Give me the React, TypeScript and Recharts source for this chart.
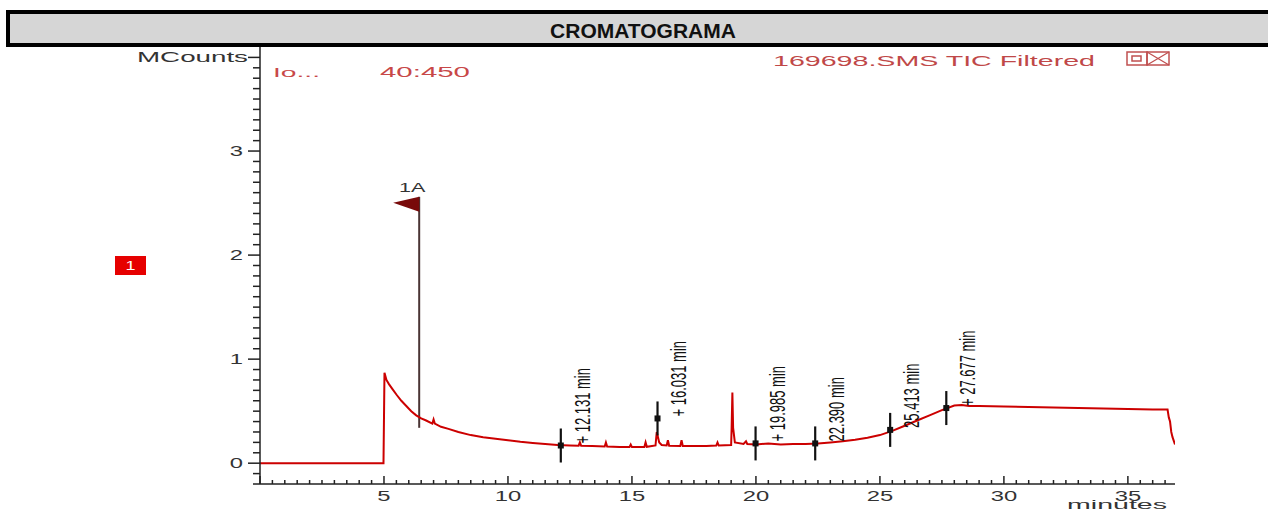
import React from "react";
import {
  ComposedChart,
  Line,
  Scatter,
  XAxis,
  YAxis,
  ReferenceLine,
} from "recharts";

// ---- chromatogram trace (minutes, MCounts) ----
const times = [
  0, 4.98, 5.02, 5.1, 5.2, 5.35, 5.5, 5.7, 5.9, 6.1, 6.3, 6.5, 6.7, 6.95, 7.0, 7.05,
  7.3, 7.6, 8.0, 8.5, 9.0, 9.5, 10.0, 10.5, 11.0, 11.5, 12.0, 12.5, 12.85, 12.9, 12.95,
  13.4, 13.9, 13.95, 14.0, 14.5, 14.9, 14.95, 15.0, 15.5, 15.55, 15.6, 15.95, 16.0,
  16.1, 16.2, 16.4, 16.45, 16.5, 16.95, 17.0, 17.05, 17.5, 18.0, 18.4, 18.45, 18.5,
  19.0, 19.02, 19.05, 19.08, 19.15, 19.5, 19.6, 19.65, 20.0, 20.5, 21.0, 21.5, 22.0,
  22.5, 23.0, 23.5, 24.0, 24.5, 25.0, 25.5, 26.0, 26.5, 27.0, 27.5, 28.0, 28.3, 28.6,
  29.0, 30.0, 31.0, 32.0, 33.0, 34.0, 35.0, 36.0, 36.6, 36.65, 36.7, 36.75, 36.8, 36.9,
];
const counts = [
  0, 0, 0.87, 0.8, 0.76, 0.71, 0.66, 0.6, 0.55, 0.5, 0.46, 0.43, 0.41, 0.38, 0.42, 0.38,
  0.35, 0.33, 0.3, 0.27, 0.25, 0.235, 0.22, 0.205, 0.195, 0.185, 0.175, 0.17, 0.168, 0.2, 0.168,
  0.165, 0.16, 0.2, 0.16, 0.155, 0.155, 0.18, 0.155, 0.155, 0.2, 0.157, 0.17, 0.3,
  0.2, 0.175, 0.17, 0.22, 0.168, 0.165, 0.22, 0.165, 0.165, 0.165, 0.17, 0.2, 0.17,
  0.175, 0.34, 0.68, 0.34, 0.2, 0.185, 0.21, 0.185, 0.18, 0.19, 0.18, 0.185, 0.185,
  0.19, 0.2, 0.21, 0.225, 0.245, 0.27, 0.31, 0.36, 0.41, 0.46, 0.51, 0.555, 0.56, 0.55,
  0.55, 0.545, 0.54, 0.535, 0.53, 0.525, 0.52, 0.515, 0.515, 0.44, 0.4, 0.3, 0.25, 0.18,
];

// ---- integration markers ----
const peakTimes = [12.131, 16.031, 19.985, 22.39, 25.413, 27.677];
const peakCounts = [0.17, 0.43, 0.19, 0.19, 0.32, 0.53];
const peakLabels = [
  "+ 12.131 min",
  "+ 16.031 min",
  "+ 19.985 min",
  "22.390 min",
  "25.413 min",
  "+ 27.677 min",
];

// ---- compound flag ----
const flagTime = 6.42;
const flagTop = 2.56;
const flagBottom = 0.34;
const flagLabel = "1A";

// ---- axes ----
const xDomain = [0, 36.9];
const yDomain = [-0.2, 4.0];
const xTickLabels = [5, 10, 15, 20, 25, 30, 35];
const yTickLabels = [0, 1, 2, 3];
const yUnitTick = 3.9;
const yUnitLabel = "MCounts";
const xUnitLabel = "minutes";
const xTicks = Array.from({ length: 74 }, (_, i) => i * 0.5);
const yTicks = Array.from({ length: 42 }, (_, i) => Math.round((-0.2 + i * 0.1) * 10) / 10);

// ---- header texts ----
const titleText = "CROMATOGRAMA";
const ionLabel = "Io...";
const ionRange = "40:450";
const traceName = "169698.SMS TIC Filtered";
const badgeText = "1";

const chartData = times.map((t, i) => ({ t, v: counts[i] }));
const peakData = peakTimes.map((t, i) => ({ t, v: peakCounts[i], label: peakLabels[i] }));
const flagData = [{ t: flagTime, v: flagTop, label: flagLabel }];

const RED = "#cc0000";
const FONT = "'Liberation Sans', Arial, sans-serif";

const XTick = (props: any) => {
  const { x, y, payload } = props;
  const v = payload.value;
  const isMajor = Math.abs(v - Math.round(v)) < 1e-6 && Math.round(v) % 5 === 0;
  const hasLabel = isMajor && xTickLabels.includes(Math.round(v));
  return (
    <g>
      <line x1={x} y1={y} x2={x} y2={y - (isMajor ? 8 : 4)} stroke="#222" strokeWidth={1.5} />
      {hasLabel && (
        <text
          transform={`translate(${x},${y + 17}) scale(1.7,1)`}
          textAnchor="middle"
          fontSize={14}
          fill="#333"
          fontFamily={FONT}
        >
          {Math.round(v)}
        </text>
      )}
    </g>
  );
};

const YTickLeft = (props: any) => {
  const { x, y, payload } = props;
  const v = payload.value;
  const r = Math.round(v * 10) / 10;
  const isInt = Math.abs(r - Math.round(r)) < 1e-6 && yTickLabels.includes(Math.round(r));
  const isUnit = Math.abs(r - yUnitTick) < 1e-6;
  const major = isInt || isUnit;
  return (
    <g>
      <line x1={x} y1={y} x2={x - (major ? 12 : 7)} y2={y} stroke="#222" strokeWidth={1.5} />
      {isInt && (
        <text
          transform={`translate(${x - 17},${y + 5}) scale(1.7,1)`}
          textAnchor="end"
          fontSize={14}
          fill="#333"
          fontFamily={FONT}
        >
          {Math.round(r)}
        </text>
      )}
      {isUnit && (
        <text
          x={x - 12}
          y={y + 5}
          textAnchor="end"
          fontSize={14}
          fill="#333"
          fontFamily={FONT}
          textLength={111}
          lengthAdjust="spacingAndGlyphs"
        >
          {yUnitLabel}
        </text>
      )}
    </g>
  );
};

const YTickRight = (props: any) => {
  const { x, y, payload } = props;
  const r = Math.round(payload.value * 10) / 10;
  const major = Math.abs(r - Math.round(r)) < 1e-6 && yTickLabels.includes(Math.round(r));
  return <line x1={x} y1={y} x2={x - (major ? 12 : 6)} y2={y} stroke="#222" strokeWidth={1.5} />;
};

const PeakMarker = (props: any) => {
  const { cx, cy, payload } = props;
  if (cx == null || cy == null) return null;
  return (
    <g>
      <line x1={cx} y1={cy - 17} x2={cx} y2={cy + 17} stroke="#111" strokeWidth={2.2} />
      <rect x={cx - 3} y={cy - 3} width={6} height={6} fill="#111" />
      <text
        transform={`translate(${cx + 21},${cy - 2}) scale(1.75,1) rotate(-90)`}
        fontSize={13}
        dominantBaseline="central"
        fill="#111"
        fontFamily={FONT}
      >
        {payload.label}
      </text>
    </g>
  );
};

const FlagMarker = (props: any) => {
  const { cx, cy, payload } = props;
  if (cx == null || cy == null) return null;
  return (
    <g>
      <polygon points={`${cx},${cy} ${cx},${cy + 15} ${cx - 26},${cy + 6}`} fill="#780a0a" />
      <text
        transform={`translate(${cx - 7},${cy - 5}) scale(1.8,1)`}
        textAnchor="middle"
        fontSize={12}
        fill="#333"
        fontFamily={FONT}
      >
        {payload.label}
      </text>
    </g>
  );
};

export default function App() {
  return (
    <div
      style={{
        position: "absolute",
        left: 0,
        top: 0,
        width: 1268,
        height: 511,
        overflow: "hidden",
        background: "#ffffff",
        fontFamily: FONT,
      }}
    >
      <div
        style={{
          position: "absolute",
          left: 6,
          top: 10,
          width: 1280,
          height: 29,
          border: "4px solid #000",
          background: "#d6d6d6",
        }}
      />
      <div
        style={{
          position: "absolute",
          left: 448,
          width: 390,
          top: 16,
          height: 29,
          lineHeight: "29px",
          textAlign: "center",
          fontWeight: "bold",
          fontSize: 21,
          color: "#111",
          fontFamily: FONT,
        }}
      >
        {titleText}
      </div>

      <div style={{ position: "absolute", left: 0, top: 0 }}>
        <ComposedChart
          width={1268}
          height={511}
          data={chartData}
          margin={{ top: 47, right: 93, bottom: 0, left: 200 }}
        >
          <XAxis
            dataKey="t"
            type="number"
            domain={xDomain}
            ticks={xTicks}
            interval={0}
            allowDataOverflow
            height={27}
            tickSize={0}
            tickMargin={0}
            tickLine={false}
            axisLine={{ stroke: "#222", strokeWidth: 1.5 }}
            tick={<XTick />}
          />
          <YAxis
            yAxisId="left"
            type="number"
            domain={yDomain}
            ticks={yTicks}
            interval={0}
            allowDataOverflow
            width={60}
            tickSize={0}
            tickMargin={0}
            tickLine={false}
            axisLine={{ stroke: "#222", strokeWidth: 1.5 }}
            tick={<YTickLeft />}
          />
          <YAxis
            yAxisId="right"
            orientation="right"
            type="number"
            domain={yDomain}
            ticks={yTicks}
            interval={0}
            allowDataOverflow
            width={0}
            tickSize={0}
            tickMargin={0}
            tickLine={false}
            axisLine={false}
            tick={<YTickRight />}
          />
          <ReferenceLine
            yAxisId="left"
            segment={[
              { x: flagTime, y: flagBottom },
              { x: flagTime, y: flagTop },
            ]}
            stroke="#4a3434"
            strokeWidth={2}
          />
          <Line
            yAxisId="left"
            dataKey="v"
            type="linear"
            stroke={RED}
            strokeWidth={2}
            dot={false}
            isAnimationActive={false}
          />
          <Line
            yAxisId="right"
            dataKey="v"
            type="linear"
            stroke="none"
            dot={false}
            isAnimationActive={false}
            legendType="none"
          />
          <Scatter
            yAxisId="left"
            data={peakData}
            dataKey="v"
            shape={<PeakMarker />}
            isAnimationActive={false}
          />
          <Scatter
            yAxisId="left"
            data={flagData}
            dataKey="v"
            shape={<FlagMarker />}
            isAnimationActive={false}
          />
        </ComposedChart>
      </div>

      <svg
        width={1268}
        height={511}
        style={{ position: "absolute", left: 0, top: 0, pointerEvents: "none" }}
      >
        <text x={273} y={77} fontSize={13} fill="#c84848" fontFamily={FONT} textLength={47} lengthAdjust="spacingAndGlyphs">
          {ionLabel}
        </text>
        <text x={380} y={77} fontSize={14} fill="#c84848" fontFamily={FONT} textLength={90} lengthAdjust="spacingAndGlyphs">
          {ionRange}
        </text>
        <text x={773} y={66} fontSize={15} fill="#c04848" fontFamily={FONT} textLength={322} lengthAdjust="spacingAndGlyphs">
          {traceName}
        </text>
        <rect x={1127} y={52} width={20} height={13} fill="none" stroke="#c05050" strokeWidth={1.5} />
        <rect x={1132} y={56} width={9} height={5} fill="none" stroke="#c05050" strokeWidth={1.5} />
        <rect x={1147} y={52} width={22} height={13} fill="none" stroke="#c05050" strokeWidth={1.5} />
        <line x1={1147} y1={52} x2={1169} y2={65} stroke="#c05050" strokeWidth={1.2} />
        <line x1={1169} y1={52} x2={1147} y2={65} stroke="#c05050" strokeWidth={1.2} />
        <text x={1067} y={509} fontSize={12} fill="#333" fontFamily={FONT} textLength={100} lengthAdjust="spacingAndGlyphs">
          {xUnitLabel}
        </text>
        <rect x={115} y={256} width={31} height={19} fill="#e60000" />
        <text transform="translate(130.5,270) scale(1.5,1)" textAnchor="middle" fontSize={12} fill="#ffffff" fontFamily={FONT}>
          {badgeText}
        </text>
      </svg>
    </div>
  );
}
